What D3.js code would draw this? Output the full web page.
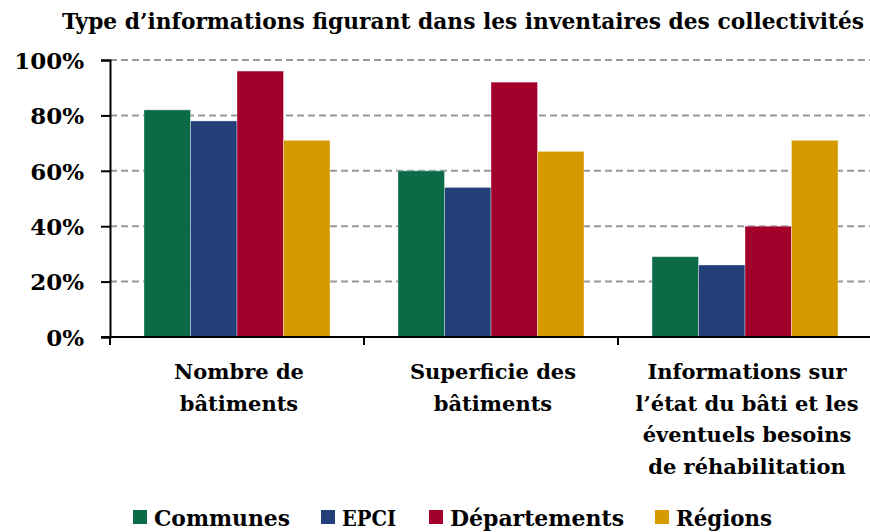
<!DOCTYPE html>
<html>
<head>
<meta charset="utf-8">
<script src="https://cdn.jsdelivr.net/npm/d3@7"></script>
<style>
  body { margin: 0; background: #fff; }
  text { font-family: "DejaVu Serif", serif; font-weight: bold; fill: #000; }
  .cond { font-family: "DejaVu Serif Condensed", "DejaVu Serif", serif; font-stretch: condensed; }
</style>
</head>
<body>
<svg id="chart"></svg>
<script>
var categories = [
    ["Nombre de", "bâtiments"],
    ["Superficie des", "bâtiments"],
    ["Informations sur", "l’état du bâti et les", "éventuels besoins", "de réhabilitation"]
];
var seriesNames = ["Communes", "EPCI", "Départements", "Régions"];
var communes = [0.82, 0.60, 0.29];
var epci = [0.78, 0.54, 0.26];
var departements = [0.96, 0.92, 0.40];
var regions = [0.71, 0.67, 0.71];
var yTicks = [0, 0.2, 0.4, 0.6, 0.8, 1];
var colors = ["#0b6b47", "#233f78", "#a0002a", "#d59a00"];

var width = 870, height = 532;
var margin = {top: 60, right: -2, bottom: 195, left: 110};
var chartBottom = height - margin.bottom;
var chartRight = width - margin.right;

var svg = d3.select("#chart")
    .attr("width", width)
    .attr("height", height);

var series = [communes, epci, departements, regions];

var xScale = d3.scaleBand()
    .domain(d3.range(categories.length))
    .range([margin.left, chartRight])
    .paddingInner(0)
    .paddingOuter(0);

var inner = d3.scaleBand()
    .domain(seriesNames)
    .range([34, xScale.bandwidth() - 34]);

var yScale = d3.scaleLinear()
    .domain([0, 1])
    .range([chartBottom, margin.top]);

// title
svg.append("text")
    .attr("class", "cond")
    .attr("x", 463)
    .attr("y", 29)
    .attr("text-anchor", "middle")
    .attr("textLength", 802)
    .attr("lengthAdjust", "spacingAndGlyphs")
    .style("font-size", "22px")
    .text("Type d’informations figurant dans les inventaires des collectivités");

// gridlines
svg.append("g").selectAll("line")
    .data(yTicks.filter(function(d) { return d > 0; }))
    .enter().append("line")
    .attr("x1", margin.left)
    .attr("x2", chartRight)
    .attr("y1", function(d) { return yScale(d); })
    .attr("y2", function(d) { return yScale(d); })
    .attr("stroke", "#989898")
    .attr("stroke-width", 2)
    .attr("stroke-dasharray", "7,4");

// bars
var groups = svg.append("g").selectAll("g")
    .data(categories)
    .enter().append("g")
    .attr("transform", function(d, i) { return "translate(" + xScale(i) + ",0)"; });

groups.selectAll("rect")
    .data(function(d, i) {
        return series.map(function(s, j) { return {name: seriesNames[j], value: s[i], k: j}; });
    })
    .enter().append("rect")
    .attr("x", function(d) { return inner(d.name); })
    .attr("width", inner.bandwidth())
    .attr("y", function(d) { return yScale(d.value); })
    .attr("height", function(d) { return chartBottom - yScale(d.value); })
    .attr("fill", function(d) { return colors[d.k]; })
    .attr("stroke", "#ffffff")
    .attr("stroke-opacity", 0.35)
    .attr("stroke-width", 1);

// y-axis
var yAxis = svg.append("g")
    .attr("transform", "translate(" + margin.left + ",0)")
    .call(d3.axisLeft(yScale).tickValues(yTicks).tickSize(9).tickPadding(17)
        .tickFormat(d3.format(".0%")));
yAxis.select(".domain").attr("stroke", "#000").attr("stroke-width", 2);
yAxis.selectAll(".tick line").attr("stroke", "#000").attr("stroke-width", 2);
yAxis.selectAll(".tick text")
    .style("font-size", "23px")
    .style("font-family", "'DejaVu Serif', serif")
    .style("font-weight", "bold")
    .attr("dy", "0.36em");

// x-axis line + ticks at band edges
svg.append("line")
    .attr("x1", margin.left - 9)
    .attr("x2", chartRight)
    .attr("y1", chartBottom)
    .attr("y2", chartBottom)
    .attr("stroke", "#000")
    .attr("stroke-width", 2);

svg.append("g").selectAll("line")
    .data(d3.range(categories.length))
    .enter().append("line")
    .attr("x1", function(d) { return xScale(d); })
    .attr("x2", function(d) { return xScale(d); })
    .attr("y1", chartBottom)
    .attr("y2", chartBottom + 8)
    .attr("stroke", "#000")
    .attr("stroke-width", 2);

// category labels
var labels = svg.append("g").selectAll("text")
    .data(categories)
    .enter().append("text")
    .attr("text-anchor", "middle")
    .style("font-size", "21px")
    .attr("transform", function(d, i) {
        return "translate(" + (xScale(i) + xScale.bandwidth() / 2 + 2) + "," + (chartBottom + 42) + ")";
    });

labels.selectAll("tspan")
    .data(function(d) { return d; })
    .enter().append("tspan")
    .attr("x", 0)
    .attr("y", function(d, i) { return i * 31.5; })
    .text(function(d) { return d; });

// legend
var legendX = [133, 321, 429, 655];
var legendW = [136, 54, 174, 96];
var legend = svg.append("g").selectAll("g")
    .data(seriesNames)
    .enter().append("g")
    .attr("transform", function(d, i) { return "translate(" + legendX[i] + ",510)"; });

legend.append("rect")
    .attr("width", 14)
    .attr("height", 14)
    .attr("fill", function(d, i) { return colors[i]; });

legend.append("text")
    .attr("class", "cond")
    .attr("x", 21)
    .attr("y", 16)
    .attr("textLength", function(d, i) { return legendW[i]; })
    .attr("lengthAdjust", "spacingAndGlyphs")
    .style("font-size", "23px")
    .text(function(d) { return d; });
</script>
</body>
</html>
